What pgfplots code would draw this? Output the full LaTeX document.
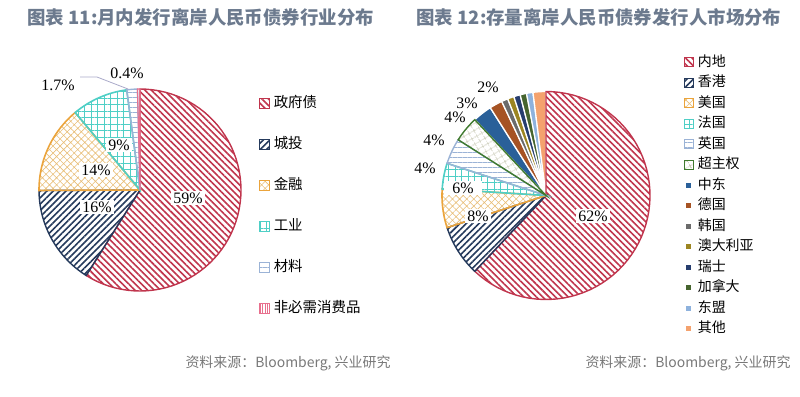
\documentclass[border=0pt]{standalone}
\usepackage{fontspec}
\setmainfont{Liberation Serif}
\newfontfamily\cjk{Noto Sans CJK SC}
\usepackage{pgfplots}
\pgfplotsset{compat=1.18}
\usetikzlibrary{patterns.meta}

\definecolor{cTitle}{RGB}{108,122,142}
\definecolor{cSrc}{RGB}{120,120,120}
\definecolor{cRed}{HTML}{C0354D}
\definecolor{cNavy}{HTML}{253A5C}
\definecolor{cOrange}{HTML}{EBA43C}
\definecolor{cOrangeL}{HTML}{E8BE78}
\definecolor{cTeal}{HTML}{4FCFC6}
\definecolor{cLBlue}{HTML}{9BB3D6}
\definecolor{cPink}{HTML}{E8708E}
\definecolor{cGreen}{HTML}{3F7A2E}
\definecolor{cGreenL}{HTML}{BDBFA6}
\definecolor{cMid}{HTML}{2A6099}
\definecolor{cBrown}{HTML}{A65324}
\definecolor{cGray}{HTML}{6B6B6B}
\definecolor{cOlive}{HTML}{9C8521}
\definecolor{cDNavy}{HTML}{263D6E}
\definecolor{cDGreen}{HTML}{46642E}
\definecolor{cSky}{HTML}{8EB2DD}
\definecolor{cPeach}{HTML}{F4A26E}
\definecolor{cLead}{HTML}{A9A9C9}

\tikzset{
 pRed/.style={draw=cRed,line width=1.4bp,pattern={Lines[angle=-45,distance=4.5bp,line width=1.6bp]},pattern color=cRed},
 pNavy/.style={draw=cNavy,line width=1.4bp,pattern={Lines[angle=45,distance=4.5bp,line width=1.6bp]},pattern color=cNavy},
 pOrange/.style={draw=cOrange,line width=1.6bp,pattern={Hatch[angle=45,distance=5bp,line width=0.6bp]},pattern color=cOrangeL},
 pTeal/.style={draw=cTeal,line width=1.6bp,pattern={Hatch[angle=0,distance=6.5bp,line width=0.8bp]},pattern color=cTeal},
 pLBlue/.style={draw=cLBlue,line width=1.4bp,pattern={Lines[angle=0,distance=5bp,line width=0.8bp]},pattern color=cLBlue},
 pPink/.style={draw=cPink,line width=1.2bp,pattern={Lines[angle=90,distance=2.5bp,line width=0.7bp]},pattern color=cPink},
 pGreen/.style={draw=cGreen,line width=1.4bp,pattern={Hatch[angle=30,distance=6bp,line width=0.6bp]},pattern color=cGreenL},
 sld/.style={fill=#1,draw=white,line width=1.3bp},
 lab/.style={fill=white,inner sep=2bp,font=\fontsize{16}{16}\selectfont},
 labo/.style={inner sep=1bp,font=\fontsize{16}{16}\selectfont},
}
\pgfplotsset{
 pieaxis/.style={anchor=north west,x=1bp,y=1bp,ymin=0,ymax=397,y dir=reverse,hide axis,clip=false,
   legend cell align=left},
 smallsq/.style={legend image code/.code={\fill[##1,draw=none] (2bp,-2.5bp) rectangle (7bp,2.5bp);}},
}
% pie slice: style, cx, cy, r, start (cumulative %), end (cumulative %)
\newcommand\pieslice[6]{\addplot[#1,forget plot,domain=#5:#6,samples=60,variable=\t]({#2+#4*sin(\pf*\t)},{#3-#4*cos(\pf*\t)}) -- (axis cs:#2,#3) -- cycle;}

\begin{document}
\begin{tikzpicture}
\useasboundingbox (0,0) rectangle (800bp,-397bp);
% ---------------- left pie ----------------
\pgfmathsetmacro\pf{360/100.1}
\begin{axis}[pieaxis,at={(0,0)},xmin=0,xmax=400,
  legend style={at={(axis cs:259,95.5)},anchor=north west,draw=none,fill=none,inner sep=0pt,outer sep=0pt,
    row sep=26bp,font=\cjk\fontsize{14.5}{14.5}\selectfont,
    nodes={inner sep=0pt,text height=12bp,text depth=3bp},
    /tikz/every odd column/.append style={column sep=4bp}},
  legend image code/.code={\draw[#1,line width=0.8bp] (0bp,-5bp) rectangle (10bp,5bp);}]
% data: 59, 16, 14, 9, 1.7, 0.4 (cumulative)
\pieslice{pRed}{140}{190}{101}{0}{59}
\pieslice{pNavy}{140}{190}{101}{59}{75}
\pieslice{pOrange}{140}{190}{101}{75}{89}
\pieslice{pTeal}{140}{190}{101}{89}{98}
\pieslice{pLBlue}{140}{190}{101}{98}{99.7}
\pieslice{pPink}{140}{190}{101}{99.7}{100.1}
\addlegendimage{pRed}\addlegendentry{政府债}
\addlegendimage{pNavy}\addlegendentry{城投}
\addlegendimage{pOrange}\addlegendentry{金融}
\addlegendimage{pTeal}\addlegendentry{工业}
\addlegendimage{pLBlue}\addlegendentry{材料}
\addlegendimage{pPink}\addlegendentry{非必需消费品}
\node[lab] at (axis cs:188,198) {59\%};
\node[lab] at (axis cs:97,207) {16\%};
\node[lab] at (axis cs:96,170) {14\%};
\node[lab] at (axis cs:119,145) {9\%};
\node[labo] at (axis cs:58,85) {1.7\%};
\node[labo] at (axis cs:127,73) {0.4\%};
\draw[cLead,line width=0.8bp] (axis cs:80,77) -- (axis cs:97,77) -- (axis cs:128,89);
\node[anchor=west,font=\cjk\bfseries\fontsize{18.5}{18.5}\selectfont,text=cTitle] at (axis cs:24,17) {图表 11:月内发行离岸人民币债券行业分布};
\node[anchor=west,font=\cjk\fontsize{14}{14}\selectfont,text=cSrc] at (axis cs:182,363) {资料来源：Bloomberg, 兴业研究};
\end{axis}
% ---------------- right pie ----------------
\pgfmathsetmacro\pf{3.6}
\begin{axis}[pieaxis,at={(400bp,0)},xmin=400,xmax=800,
  legend style={at={(axis cs:684,55)},anchor=north west,draw=none,fill=none,inner sep=0pt,outer sep=0pt,
    row sep=6.5bp,font=\cjk\fontsize{14}{14}\selectfont,
    nodes={inner sep=0pt,text height=11bp,text depth=3bp},
    /tikz/every odd column/.append style={column sep=4bp}},
  legend image code/.code={\draw[#1,line width=0.8bp] (0bp,-4.5bp) rectangle (9bp,4.5bp);}]
% data: 62, 8, 6, 4, 4, 4, 3, 2, 1, 1, 1, 1, 1, 2 (cumulative)
\pieslice{sld=cMid}{546}{195.5}{104}{88}{91}
\pieslice{sld=cBrown}{546}{195.5}{104}{91}{93}
\pieslice{sld=cGray}{546}{195.5}{104}{93}{94}
\pieslice{sld=cOlive}{546}{195.5}{104}{94}{95}
\pieslice{sld=cDNavy}{546}{195.5}{104}{95}{96}
\pieslice{sld=cDGreen}{546}{195.5}{104}{96}{97}
\pieslice{sld=cSky}{546}{195.5}{104}{97}{98}
\pieslice{sld=cPeach}{546}{195.5}{104}{98}{100}
\pieslice{pRed}{546}{195.5}{104}{0}{62}
\pieslice{pNavy}{546}{195.5}{104}{62}{70}
\pieslice{pOrange}{546}{195.5}{104}{70}{76}
\pieslice{pTeal}{546}{195.5}{104}{76}{80}
\pieslice{pLBlue}{546}{195.5}{104}{80}{84}
\pieslice{pGreen}{546}{195.5}{104}{84}{88}
\addlegendimage{pRed}\addlegendentry{内地}
\addlegendimage{pNavy}\addlegendentry{香港}
\addlegendimage{pOrange}\addlegendentry{美国}
\addlegendimage{pTeal}\addlegendentry{法国}
\addlegendimage{pLBlue}\addlegendentry{英国}
\addlegendimage{pGreen}\addlegendentry{超主权}
\addlegendimage{sld=cMid,smallsq}\addlegendentry{中东}
\addlegendimage{sld=cBrown,smallsq}\addlegendentry{德国}
\addlegendimage{sld=cGray,smallsq}\addlegendentry{韩国}
\addlegendimage{sld=cOlive,smallsq}\addlegendentry{澳大利亚}
\addlegendimage{sld=cDNavy,smallsq}\addlegendentry{瑞士}
\addlegendimage{sld=cDGreen,smallsq}\addlegendentry{加拿大}
\addlegendimage{sld=cSky,smallsq}\addlegendentry{东盟}
\addlegendimage{sld=cPeach,smallsq}\addlegendentry{其他}
\node[lab] at (axis cs:593,216) {62\%};
\node[lab] at (axis cs:478,216) {8\%};
\node[lab,inner xsep=8bp] at (axis cs:463,188) {6\%};
\node[labo] at (axis cs:425,168) {4\%};
\node[labo] at (axis cs:434,140) {4\%};
\node[labo] at (axis cs:455,117) {4\%};
\node[labo] at (axis cs:467,103) {3\%};
\node[labo] at (axis cs:488,87) {2\%};
\node[anchor=west,font=\cjk\bfseries\fontsize{18.5}{18.5}\selectfont,text=cTitle] at (axis cs:413,17) {图表 12:存量离岸人民币债券发行人市场分布};
\node[anchor=west,font=\cjk\fontsize{14}{14}\selectfont,text=cSrc] at (axis cs:582,363) {资料来源：Bloomberg, 兴业研究};
\end{axis}
\end{tikzpicture}
\end{document}
